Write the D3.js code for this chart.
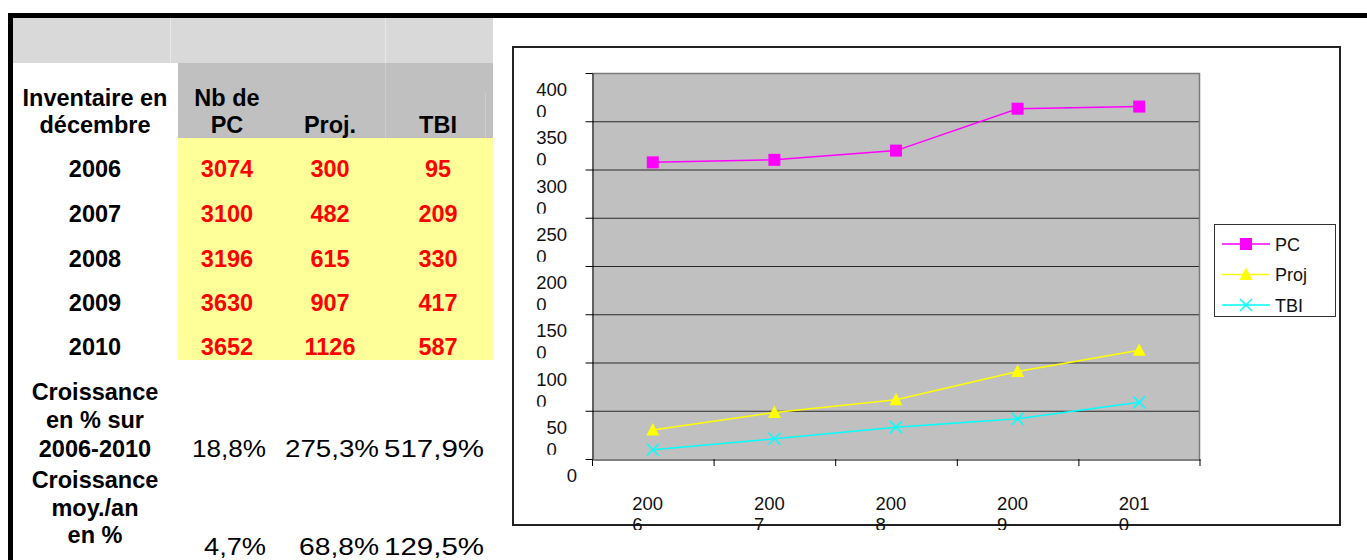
<!DOCTYPE html>
<html>
<head>
<meta charset="utf-8">
<script src="https://cdn.jsdelivr.net/npm/d3@7"></script>
<style>
  body { margin: 0; background: #fff; }
  svg { display: block; font-family: "Liberation Sans", Arial, sans-serif; }
</style>
</head>
<body>
<script>
// Inventaire PC / Proj / TBI

const years = ["2006", "2007", "2008", "2009", "2010"];
const pcValues = [3074, 3100, 3196, 3630, 3652];
const projValues = [300, 482, 615, 907, 1126];
const tbiValues = [95, 209, 330, 417, 587];
const seriesNames = ["PC", "Proj", "TBI"];
const headerNames = [["Nb de", "PC"], ["", "Proj."], ["", "TBI"]];
const growthTotal = ["18,8%", "275,3%", "517,9%"];
const growthYearly = ["4,7%", "68,8%", "129,5%"];
const yTicks = [0, 500, 1000, 1500, 2000, 2500, 3000, 3500, 4000];

const width = 1367, height = 560;

const svg = d3.select("body").append("svg")
    .attr("width", width)
    .attr("height", height);

// ---------- table (left part) ----------
svg.append("rect").attr("x", 13).attr("y", 18).attr("width", 480).attr("height", 45).attr("fill", "#d9d9d9");
svg.append("rect").attr("x", 178).attr("y", 63).attr("width", 315).attr("height", 75).attr("fill", "#c0c0c0");
svg.append("rect").attr("x", 178).attr("y", 138).attr("width", 315).attr("height", 222).attr("fill", "#ffff99");

// faint cell separators
const sep = svg.append("g").attr("stroke-width", 1);
[170.5, 385.5].forEach(function(x) {
  sep.append("line").attr("x1", x).attr("x2", x).attr("y1", 18).attr("y2", 63).attr("stroke", "#e9e9e9");
});
[385.5, 485.5].forEach(function(x) {
  sep.append("line").attr("x1", x).attr("x2", x).attr("y1", x > 400 ? 93 : 63).attr("y2", 138).attr("stroke", "#cecece");
  sep.append("line").attr("x1", x).attr("x2", x).attr("y1", 138).attr("y2", 360).attr("stroke", "#ffffc4");
});

// black frame
svg.append("rect").attr("x", 8).attr("y", 13).attr("width", width - 8).attr("height", 5).attr("fill", "#000");
svg.append("rect").attr("x", 8).attr("y", 13).attr("width", 5).attr("height", height - 13).attr("fill", "#000");

const colX = [227, 330, 438];
const rowBase = [177, 222, 267, 311, 355];
const boldFont = "23.5px";

const table = svg.append("g")
    .attr("font-weight", "bold")
    .attr("font-size", boldFont)
    .attr("text-anchor", "middle");

table.append("text").attr("x", 95).attr("y", 106).text("Inventaire en");
table.append("text").attr("x", 95).attr("y", 133).text("décembre");

headerNames.forEach(function(h, i) {
  if (h[0]) table.append("text").attr("x", colX[i]).attr("y", 106).text(h[0]);
  table.append("text").attr("x", colX[i]).attr("y", 133).text(h[1]);
});

table.selectAll(".year")
    .data(years)
    .enter()
    .append("text")
    .attr("class", "year")
    .attr("x", 95)
    .attr("y", function(d, i) { return rowBase[i]; })
    .text(function(d) { return d; });

[pcValues, projValues, tbiValues].forEach(function(vals, c) {
  table.selectAll(".v" + c)
      .data(vals)
      .enter()
      .append("text")
      .attr("class", "v" + c)
      .attr("x", colX[c])
      .attr("y", function(d, i) { return rowBase[i]; })
      .attr("fill", "#ff0000")
      .text(function(d) { return d; });
});

[["Croissance", "en % sur", "2006-2010"], ["Croissance", "moy./an", "en %"]].forEach(function(lines, k) {
  const base = k === 0 ? [400, 428, 457] : [488, 516, 543];
  lines.forEach(function(l, j) {
    table.append("text").attr("x", 95).attr("y", base[j]).text(l);
  });
});

// growth values, regular weight, right aligned in their cells (slightly wide face)
const growthRight = [266, 379, 484];
const growthLenTotal = [74, 94, 100];
const growthLenYearly = [62, 80, 100];
[[growthTotal, 457, growthLenTotal], [growthYearly, 555, growthLenYearly]].forEach(function(row) {
  svg.selectAll(null)
      .data(row[0])
      .enter()
      .append("text")
      .attr("x", function(d, i) { return growthRight[i]; })
      .attr("y", row[1])
      .attr("text-anchor", "end")
      .attr("font-size", "24px")
      .attr("textLength", function(d, i) { return row[2][i]; })
      .attr("lengthAdjust", "spacingAndGlyphs")
      .text(function(d) { return d; });
});

// ---------- line chart (right part) ----------
const plot = {left: 592, right: 1200, top: 73, bottom: 459};

const x = d3.scaleBand()
    .domain(years)
    .range([plot.left, plot.right]);

const y = d3.scaleLinear()
    .domain([0, 4000])
    .range([plot.bottom, plot.top]);

const cx = function(d) { return x(d) + x.bandwidth() / 2; };

// outer chart box
svg.append("rect")
    .attr("x", 513).attr("y", 47)
    .attr("width", 827).attr("height", 478)
    .attr("fill", "#fff")
    .attr("stroke", "#222")
    .attr("stroke-width", 2);

// plot background
svg.append("rect")
    .attr("x", plot.left).attr("y", plot.top)
    .attr("width", plot.right - plot.left).attr("height", plot.bottom - plot.top)
    .attr("fill", "#c0c0c0");

// grid lines
svg.append("g")
    .selectAll("line")
    .data(yTicks.filter(function(v) { return v > 0 && v < 4000; }))
    .enter()
    .append("line")
    .attr("x1", plot.left).attr("x2", plot.right)
    .attr("y1", function(d) { return y(d) + 0.5; })
    .attr("y2", function(d) { return y(d) + 0.5; })
    .attr("stroke", "#2a2a2a")
    .attr("stroke-width", 1);

// gray top / right border of the plot area
svg.append("path")
    .attr("d", "M" + plot.left + "," + (plot.top + 0.5) + "H" + (plot.right - 0.5) + "V" + plot.bottom)
    .attr("fill", "none")
    .attr("stroke", "#7a7a7a")
    .attr("stroke-width", 1.5);

// axes
const yAxis = svg.append("g")
    .attr("transform", "translate(" + (plot.left + 0.5) + ",0)")
    .call(d3.axisLeft(y).tickValues(yTicks).tickSize(7).tickSizeOuter(0).tickFormat(""));
yAxis.selectAll("line, path").attr("stroke", "#000");

const xAxis = svg.append("g")
    .attr("transform", "translate(0," + (plot.bottom + 0.5) + ")")
    .call(d3.axisBottom(x).tickSize(0).tickSizeOuter(0).tickFormat(""));
xAxis.selectAll("path").attr("stroke", "#000");
xAxis.selectAll(".tick").remove();

// category boundary ticks
svg.append("g")
    .selectAll("line")
    .data(years.concat(["end"]))
    .enter()
    .append("line")
    .attr("x1", function(d) { return d === "end" ? plot.right : x(d) + 0.5; })
    .attr("x2", function(d) { return d === "end" ? plot.right : x(d) + 0.5; })
    .attr("y1", plot.bottom)
    .attr("y2", plot.bottom + 7)
    .attr("stroke", "#000");

// wrapped, clipped labels (the label boxes are too narrow)
const defs = svg.append("defs");
const yClip = defs.append("clipPath").attr("id", "yclip");
yTicks.forEach(function(v) {
  yClip.append("rect").attr("x", 520).attr("y", y(v) + 4).attr("width", 70).attr("height", 40);
});
defs.append("clipPath").attr("id", "xclip")
    .append("rect").attr("x", 590).attr("y", 480).attr("width", 620).attr("height", 50);

const yLab = svg.append("g")
    .attr("clip-path", "url(#yclip)")
    .attr("font-size", "18.5px")
    .attr("fill", "#111");

yTicks.forEach(function(v) {
  const s = String(v);
  const base = y(v) + 23;
  if (s.length === 1) {
    yLab.append("text").attr("x", 577).attr("y", base).attr("text-anchor", "end").text(s);
  } else {
    const first = yLab.append("text").attr("x", 567).attr("y", base).attr("text-anchor", "end").text(s.slice(0, -1));
    const w = first.node().getComputedTextLength();
    yLab.append("text").attr("x", 567 - w).attr("y", base + 22).text(s.slice(-1));
  }
});

const xLab = svg.append("g")
    .attr("clip-path", "url(#xclip)")
    .attr("font-size", "18.5px")
    .attr("fill", "#111");

years.forEach(function(yr) {
  const left = cx(yr) - 20.5;
  xLab.append("text").attr("x", left).attr("y", 510).text(yr.slice(0, -1));
  xLab.append("text").attr("x", left).attr("y", 531).text(yr.slice(-1));
});

// series
const series = [
  {name: seriesNames[0], values: pcValues, color: "#ff00ff", marker: "square"},
  {name: seriesNames[1], values: projValues, color: "#ffff00", marker: "triangle"},
  {name: seriesNames[2], values: tbiValues, color: "#00ffff", marker: "cross"}
];

const line = d3.line()
    .x(function(d, i) { return cx(years[i]); })
    .y(function(d) { return y(d); });

function drawMarker(g, type, color, px, py) {
  if (type === "square") {
    g.append("rect").attr("x", px - 6).attr("y", py - 6).attr("width", 12).attr("height", 12).attr("fill", color);
  } else if (type === "triangle") {
    g.append("path")
        .attr("d", "M" + px + "," + (py - 7) + "L" + (px + 6.5) + "," + (py + 5.5) + "L" + (px - 6.5) + "," + (py + 5.5) + "Z")
        .attr("fill", color);
  } else {
    g.append("path")
        .attr("d", "M" + (px - 6) + "," + (py - 6) + "L" + (px + 6) + "," + (py + 6) + "M" + (px + 6) + "," + (py - 6) + "L" + (px - 6) + "," + (py + 6))
        .attr("stroke", color)
        .attr("stroke-width", 1.5);
  }
}

series.forEach(function(s) {
  svg.append("path")
      .datum(s.values)
      .attr("d", line)
      .attr("fill", "none")
      .attr("stroke", s.color)
      .attr("stroke-width", 1.5);
  const g = svg.append("g");
  s.values.forEach(function(v, i) {
    drawMarker(g, s.marker, s.color, cx(years[i]), y(v));
  });
});

// legend
const legend = svg.append("g");
legend.append("rect")
    .attr("x", 1214.5).attr("y", 224.5)
    .attr("width", 121).attr("height", 92)
    .attr("fill", "#fff")
    .attr("stroke", "#333")
    .attr("stroke-width", 1);

series.forEach(function(s, i) {
  const ly = 244 + i * 30.5;
  legend.append("line")
      .attr("x1", 1222).attr("x2", 1270)
      .attr("y1", ly).attr("y2", ly)
      .attr("stroke", s.color)
      .attr("stroke-width", 1.5);
  drawMarker(legend, s.marker, s.color, 1246, ly);
  legend.append("text")
      .attr("x", 1275)
      .attr("y", ly + 6.5)
      .attr("font-size", "18px")
      .attr("fill", "#111")
      .text(s.name);
});
</script>
</body>
</html>
